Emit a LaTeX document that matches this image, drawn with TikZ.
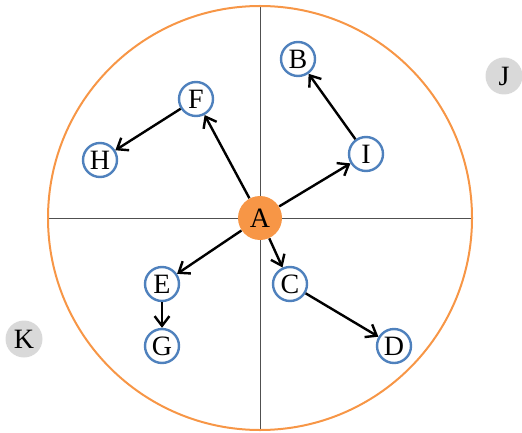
\documentclass[tikz,border=0pt]{standalone}
\usepackage{fontspec}
\setmainfont{Liberation Serif}
\usetikzlibrary{arrows.meta,positioning,calc}
\definecolor{orangeA}{HTML}{F79646}
\definecolor{bleuN}{HTML}{4F81BD}
\definecolor{grisN}{HTML}{D9D9D9}
\definecolor{grisL}{RGB}{80,80,80}
\tikzset{
  hub/.style={circle, fill=orangeA, minimum size=22pt, inner sep=0pt, font=\fontsize{14}{16}\selectfont},
  leaf/.style={circle, draw=bleuN, line width=1.2pt, fill=white, minimum size=17pt, inner sep=0pt,
               font=\fontsize{14}{16}\selectfont},
  spare/.style={circle, fill=grisN, minimum size=18.5pt, inner sep=0pt, font=\fontsize{14}{16}\selectfont},
  arr/.style={-{Straight Barb[length=1.7mm,width=2.6mm]}, line width=1.2pt, draw=black},
}
\begin{document}
\begin{tikzpicture}[x=0.5pt, y=-0.5pt]
        \useasboundingbox (0,0) rectangle (522,432);
        \draw[grisL, line width=0.5pt] (260,6) -- (260,430);
        \draw[grisL, line width=0.5pt] (48,218) -- (472,218);
        \draw[orangeA, line width=1pt] (260,218) circle[radius=212];
        \node[hub] (a) at (260,218) {A};
        \node[leaf] (b) at (298,59) {B};
        \node[leaf] (i) at (366,154) {I};
        \node[leaf] (f) at (196,99) {F};
        \node[leaf] (h) at (100,160) {H};
        \node[leaf] (e) at (162,284) {E};
        \node[leaf] (g) at (162,346) {G};
        \node[leaf] (c) at (290,284) {C};
        \node[leaf] (d) at (394,346) {D};
        \node[spare] (j) at (504,76) {J};
        \node[spare] (k) at (24,339) {K};
        \draw[arr] (a) -- (f); \draw[arr] (f) -- (h);
        \draw[arr] (a) -- (i); \draw[arr] (i) -- (b);
        \draw[arr] (a) -- (e); \draw[arr] (e) -- (g);
        \draw[arr] (a) -- (c); \draw[arr] (c) -- (d);
      \end{tikzpicture}
\end{document}
